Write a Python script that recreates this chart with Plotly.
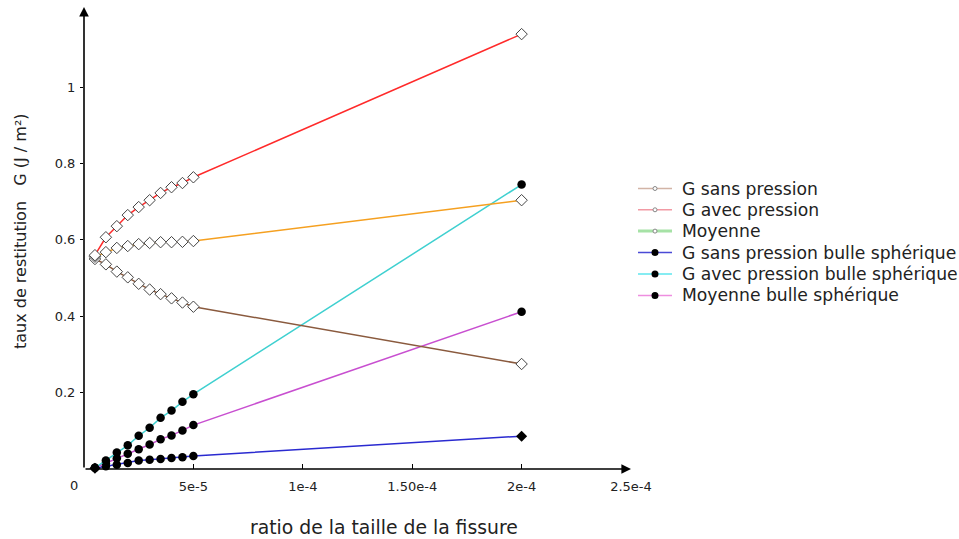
import plotly.graph_objects as go

# ---- data ----
ratio = [5e-6, 1e-5, 1.5e-5, 2e-5, 2.5e-5, 3e-5, 3.5e-5, 4e-5, 4.5e-5, 5e-5, 2e-4]

g_sans = [0.550, 0.536, 0.517, 0.502, 0.485, 0.470, 0.458, 0.447, 0.436, 0.425, 0.275]
g_avec = [0.560, 0.607, 0.636, 0.665, 0.686, 0.704, 0.723, 0.738, 0.749, 0.764, 1.139]
moyenne = [0.556, 0.568, 0.579, 0.584, 0.589, 0.592, 0.594, 0.594, 0.595, 0.597, 0.704]

bulle_sans = [0.002, 0.007, 0.011, 0.016, 0.022, 0.024, 0.026, 0.029, 0.031, 0.034, 0.086]
bulle_avec = [0.003, 0.022, 0.043, 0.062, 0.087, 0.108, 0.134, 0.153, 0.176, 0.196, 0.745]
bulle_moy = [0.003, 0.015, 0.028, 0.040, 0.052, 0.064, 0.078, 0.088, 0.101, 0.115, 0.412]

x_tickvals = [5e-5, 1e-4, 1.5e-4, 2e-4, 2.5e-4]
x_ticktext = ["5e-5", "1e-4", "1.50e-4", "2e-4", "2.5e-4"]
y_tickvals = [0.2, 0.4, 0.6, 0.8, 1.0]
y_ticktext = ["0.2", "0.4", "0.6", "0.8", "1"]

legend_names = ["G sans pression", "G avec pression", "Moyenne",
                "G sans pression bulle sphérique", "G avec pression bulle sphérique",
                "Moyenne bulle sphérique"]

FONT = "DejaVu Sans"
TXT = "#222222"
W, H = 959, 539
ML, MR, MT, MB = 84, 328, 7, 70
PW, PH = W - ML - MR, H - MT - MB


def px_x(px):
    return (px - ML) / PW


def px_y(py):
    return (H - MB - py) / PH


fig = go.Figure()

open_marker = dict(symbol="diamond", size=8.8, color="white",
                   line=dict(color="#444444", width=1))
dot_marker = dict(symbol="circle", size=8.5, color="#000000", opacity=1,
                  line=dict(color="#000000", width=0))

series = [
    (bulle_sans, "#2a2ad0", dot_marker),
    (bulle_moy, "#c84fd0", dot_marker),
    (bulle_avec, "#3fd0d0", dot_marker),
    (g_sans, "#8a5a3e", open_marker),
    (moyenne, "#f5a020", open_marker),
    (g_avec, "#ff2a2a", open_marker),
]
for ys, col, mk in series:
    m = dict(mk)
    if ys is bulle_sans:
        m["symbol"] = ["diamond"] + ["circle"] * (len(ys) - 2) + ["diamond"]
    fig.add_trace(go.Scatter(x=ratio, y=ys, mode="lines+markers",
                             line=dict(color=col, width=1.5), marker=m,
                             showlegend=False, cliponaxis=False))

# ---- hand-made legend (matches the reference's tight spacing) ----
leg_styles = [
    ("#d2b4a6", 1.5, "open"),
    ("#f29aa4", 1.5, "open"),
    ("#a6e2a6", 3, "open"),
    ("#4a4ad6", 1.5, "dot"),
    ("#5ee6ee", 1.5, "dot"),
    ("#ee8ee0", 1.5, "dot"),
]
leg_rows = [188.5, 209.8, 231.1, 252.5, 274.0, 295.5]
shapes = []
annotations = []
for name, (col, w, kind), ry in zip(legend_names, leg_styles, leg_rows):
    shapes.append(dict(type="line", xref="paper", yref="paper",
                       x0=px_x(638), x1=px_x(672), y0=px_y(ry), y1=px_y(ry),
                       line=dict(color=col, width=w)))
    r = 2 if kind == "open" else 3.5
    shapes.append(dict(type="circle", xref="paper", yref="paper",
                       xsizemode="pixel", ysizemode="pixel",
                       xanchor=px_x(655), yanchor=px_y(ry),
                       x0=-r, x1=r, y0=-r, y1=r,
                       fillcolor="white" if kind == "open" else "black",
                       line=dict(color="#888888" if kind == "open" else "black",
                                 width=1 if kind == "open" else 0)))
    annotations.append(dict(x=px_x(680), y=px_y(ry), xref="paper", yref="paper",
                            xanchor="left", yanchor="middle", text=name,
                            showarrow=False,
                            font=dict(family=FONT, size=17.2, color=TXT)))

annotations += [
    # axes arrows
    dict(x=2.5e-4, y=0, ax=0, ay=0, xref="x", yref="y", axref="x", ayref="y",
         text="", showarrow=True, arrowhead=2, arrowsize=1.2, arrowwidth=1.6,
         arrowcolor="black"),
    dict(x=0, y=1.21, ax=0, ay=0, xref="x", yref="y", axref="x", ayref="y",
         text="", showarrow=True, arrowhead=2, arrowsize=1.2, arrowwidth=1.6,
         arrowcolor="black"),
    dict(x=0, y=0, xref="x", yref="y", text="0", showarrow=False,
         xshift=-10, yshift=-16, font=dict(family=FONT, size=13, color=TXT)),
    dict(x=px_x(384), y=px_y(527), xref="paper", yref="paper",
         xanchor="center", yanchor="middle",
         text="ratio de la taille de la fissure", showarrow=False,
         font=dict(family=FONT, size=18.8, color=TXT)),
    dict(x=px_x(20), y=px_y(231), xref="paper", yref="paper", textangle=-90,
         xanchor="center", yanchor="middle",
         text="taux de restitution\u00a0\u00a0\u00a0G (J / m²)", showarrow=False,
         font=dict(family=FONT, size=16, color=TXT)),
]

fig.update_layout(
    width=W, height=H,
    margin=dict(l=ML, r=MR, t=MT, b=MB),
    paper_bgcolor="white", plot_bgcolor="white",
    font=dict(family=FONT, size=13, color=TXT),
    showlegend=False,
    xaxis=dict(range=[0, 2.5e-4], showgrid=False, zeroline=False, showline=False,
               tickvals=x_tickvals, ticktext=x_ticktext, ticks="inside",
               ticklen=5, tickcolor="black", ticklabelstandoff=8),
    yaxis=dict(range=[0, 1.21], showgrid=False, zeroline=False, showline=False,
               tickvals=y_tickvals, ticktext=y_ticktext, ticks="outside",
               ticklen=3, tickcolor="black", ticklabelstandoff=2),
    shapes=shapes,
    annotations=annotations,
)

fig.write_html("out.html", config={"displayModeBar": False},
               post_script="document.body.style.margin='0';document.body.style.overflow='hidden';")
